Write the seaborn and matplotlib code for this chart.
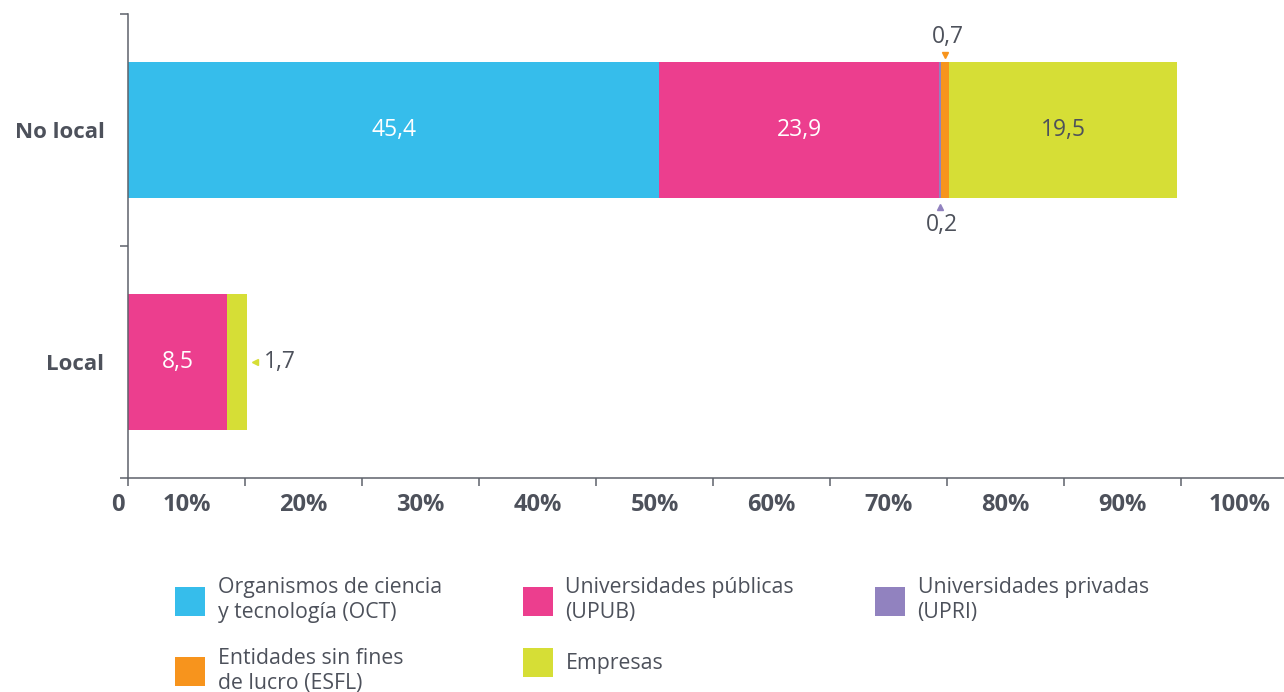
import numpy as np
import pandas as pd
import matplotlib.pyplot as plt
import seaborn as sns

# Data (percent of total)
categories = ["No local", "Local"]
series = ["Organismos de ciencia\ny tecnología (OCT)",
          "Universidades públicas\n(UPUB)",
          "Universidades privadas\n(UPRI)",
          "Entidades sin fines\nde lucro (ESFL)",
          "Empresas"]
oct_vals = [45.4, 0.0]
upub_vals = [23.9, 8.5]
upri_vals = [0.2, 0.0]
esfl_vals = [0.7, 0.0]
emp_vals = [19.5, 1.7]
colors = ["#36BDEB", "#EC3E8E", "#9182BF", "#F7941D", "#D6DE36"]
tick_labels = ["10%", "20%", "30%", "40%", "50%", "60%", "70%", "80%", "90%", "100%"]

TXT = "#4D515B"

sns.set_style("white")
plt.rcParams["font.family"] = ["Open Sans", "DejaVu Sans"]

vals = np.array([oct_vals, upub_vals, upri_vals, esfl_vals, emp_vals])
cum = vals.cumsum(axis=0)

fig = plt.figure(figsize=(12.84, 6.92), dpi=100)
ax = fig.add_axes([128 / 1284, 1 - 478 / 692, 1 - 128 / 1284, (478 - 14) / 692])

# stacked bars: draw cumulative totals from the last series back to the first
for i in range(len(series) - 1, -1, -1):
    df = pd.DataFrame({"cat": categories, "val": cum[i]})
    sns.barplot(data=df, x="val", y="cat", orient="h", color=colors[i],
                width=0.59, saturation=1, ax=ax, linewidth=0, label=series[i])

ax.set_xlabel("")
ax.set_ylabel("")

# inside labels
inside = [(0, 0, "white"), (1, 0, "white"), (4, 0, TXT), (1, 1, "white")]
for s, c, col in inside:
    v = vals[s, c]
    x = cum[s, c] - v / 2
    ax.text(x, c, f"{v:.1f}".replace(".", ","), ha="center", va="center",
            fontsize=16.5, color=col)

# small-segment callouts
x07 = cum[3, 0] - vals[3, 0] / 2
ax.plot(x07, -0.325, marker="v", color=colors[3], markersize=4, clip_on=False)
ax.text(x07 + 0.2, -0.40, "0,7", ha="center", va="center", fontsize=16.5, color=TXT)
x02 = cum[2, 0] - vals[2, 0] / 2
ax.plot(x02, 0.333, marker="^", color=colors[2], markersize=4)
ax.text(x02 + 0.2, 0.41, "0,2", ha="center", va="center", fontsize=16.5, color=TXT)
x17 = cum[4, 1] + 0.65
ax.plot(x17, 1.0, marker="<", color=colors[4], markersize=4)
ax.text(x17 + 0.75, 1.0, "1,7", ha="left", va="center", fontsize=16.5, color=TXT)

# axes styling
for side in ["top", "right"]:
    ax.spines[side].set_visible(False)
for side in ["left", "bottom"]:
    ax.spines[side].set_color("#5E626B")
    ax.spines[side].set_linewidth(1.1)

ax.set_xticks(np.arange(0, 100, 10))
ax.set_xticklabels([])
ax.set_xticks(np.arange(5, 100, 10), minor=True)
ax.set_xticklabels(tick_labels, minor=True, fontsize=17, fontweight="bold", color=TXT)
ax.tick_params(axis="x", which="major", length=6, width=1.1, color="#5E626B", bottom=True)
ax.tick_params(axis="x", which="minor", length=0, pad=11)
# the "0" label sits just left of the origin
ax.text(-0.9, -15 / 464, "0", transform=ax.get_xaxis_transform(), ha="center", va="top",
        fontsize=17, fontweight="bold", color=TXT, clip_on=False)

ax.set_yticks([-0.5, 0.5, 1.5])
ax.set_yticklabels([])
ax.set_yticks([0, 1], minor=True)
ax.set_yticklabels(categories, minor=True, fontsize=16, fontweight="bold", color=TXT)
ax.tick_params(axis="y", which="major", length=6, width=1.1, color="#5E626B", left=True)
ax.tick_params(axis="y", which="minor", length=0, pad=17)

# limits after ticks (set_xticks would otherwise widen them)
ax.set_xlim(0, (1284 - 128) / 11.7)
ax.set_ylim(1.5, -0.5)

# legend: row 1 OCT, UPUB, UPRI; row 2 ESFL, Empresas
handles, labels = ax.get_legend_handles_labels()
lookup = dict(zip(labels, handles))
order = [0, 3, 1, 4, 2]
leg_h = [lookup[series[i]] for i in order]
leg_l = [series[i] for i in order]
if ax.get_legend():
    ax.get_legend().remove()
leg = fig.legend(leg_h, leg_l, ncol=3, loc="upper left",
                 bbox_to_anchor=(156 / 1284, 1 - 558 / 692),
                 frameon=False, fontsize=15.3, handlelength=1.41, handleheight=1.75,
                 handletextpad=0.6, columnspacing=3.8, labelspacing=1.15, labelcolor=TXT)
for t in leg.get_texts():
    t.set_linespacing(1.25)

fig.savefig("out.png", dpi=100)
